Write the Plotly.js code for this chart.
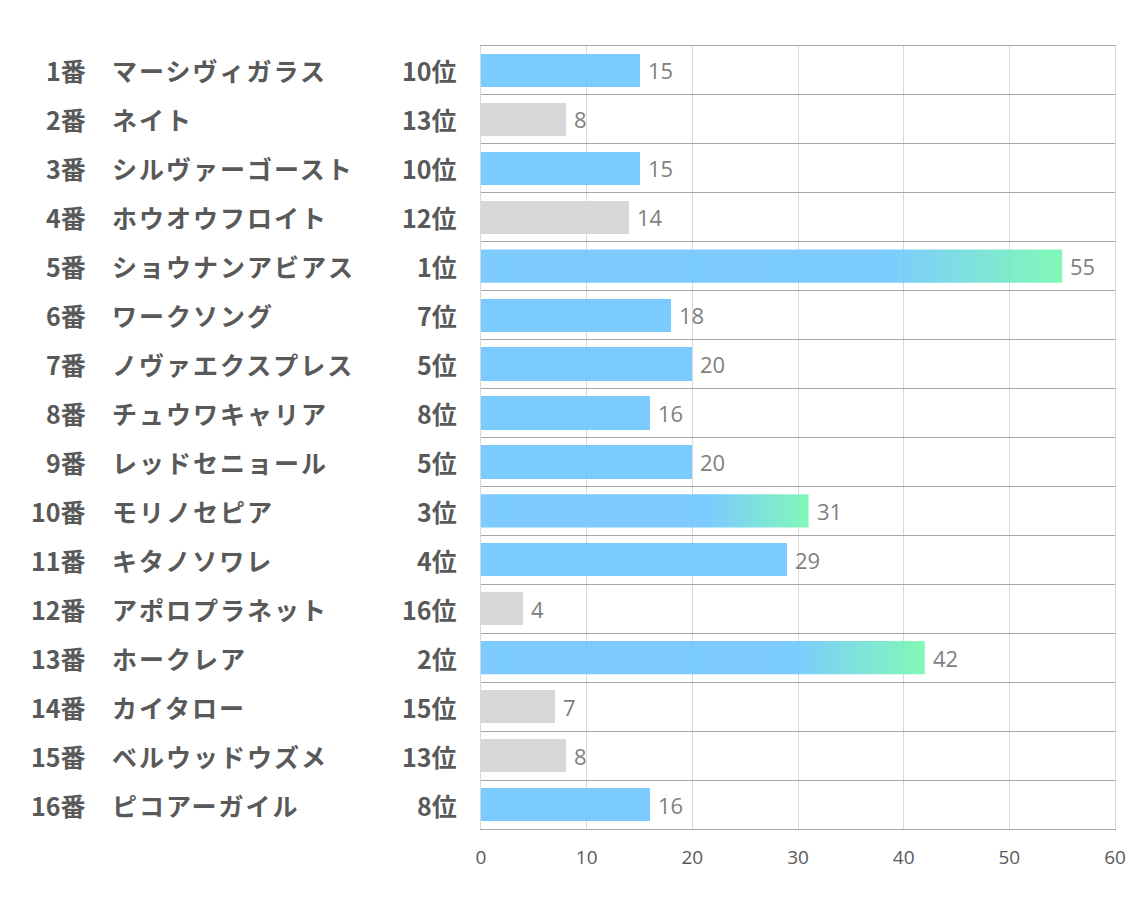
<!DOCTYPE html>
<html><head><meta charset="utf-8">
<script src="https://cdn.plot.ly/plotly-3.0.1.min.js"></script>
<style>html,body{margin:0;padding:0;background:#fff;}#chart{width:1134px;height:907px;}</style>
</head><body><div id="chart"></div>
<script>
const numbers = ["1番","2番","3番","4番","5番","6番","7番","8番","9番","10番","11番","12番","13番","14番","15番","16番"];
const names = ["マーシヴィガラス","ネイト","シルヴァーゴースト","ホウオウフロイト","ショウナンアビアス","ワークソング","ノヴァエクスプレス","チュウワキャリア","レッドセニョール","モリノセピア","キタノソワレ","アポロプラネット","ホークレア","カイタロー","ベルウッドウズメ","ピコアーガイル"];
const ranks = [10,13,10,12,1,7,5,8,5,3,4,16,2,15,13,8];
const values = [15,8,15,14,55,18,20,16,20,31,29,4,42,7,8,16];
const xTicks = [0,10,20,30,40,50,60];

const BLUE = 'rgba(110,197,255,0.9)';
const GRAY = 'rgba(214,214,214,0.95)';
const GREEN = 'rgba(115,248,175,0.9)';
const BW = 0.68;
const idx = values.map((v,i)=>i);

const barColors = idx.map(i => ranks[i] <= 3 ? 'rgba(0,0,0,0)' : (ranks[i] <= 10 ? BLUE : GRAY));

const traces = [{
  type:'bar', orientation:'h', x: values, y: idx, width: BW,
  marker:{color: barColors, line:{width:0}},
  hoverinfo:'skip'
}];

idx.filter(i => ranks[i] <= 3).forEach(i => {
  const v = values[i];
  traces.push({
    type:'scatter', mode:'lines', fill:'toself',
    x:[0, v, v, 0, 0], y:[i-BW/2, i-BW/2, i+BW/2, i+BW/2, i-BW/2],
    line:{width:0, color:'rgba(0,0,0,0)'},
    fillgradient:{type:'horizontal', start:0, stop:v,
      colorscale:[[0,BLUE],[0.7,BLUE],[1,GREEN]]},
    hoverinfo:'skip', showlegend:false
  });
});

const annotations = [];
const lab = {family:'Noto Sans CJK JP, sans-serif', size:25, color:'#595959', weight:700};
idx.forEach(i => {
  annotations.push({xref:'paper', yref:'y', x:-0.6199, y:i, xanchor:'right', yanchor:'middle', text:'<b>'+numbers[i]+'</b>', showarrow:false, font:lab});
  annotations.push({xref:'paper', yref:'y', x:-0.5852, y:i, xanchor:'left', yanchor:'middle', text:'<b><span style="letter-spacing:2px">'+names[i]+'</span></b>', showarrow:false, font:lab});
  annotations.push({xref:'paper', yref:'y', x:-0.0347, y:i, xanchor:'right', yanchor:'middle', text:'<b>'+ranks[i]+'位</b>', showarrow:false, font:lab});
  annotations.push({xref:'x', yref:'y', x:values[i], y:i, xanchor:'left', yanchor:'middle', xshift:6, text:String(values[i]), showarrow:false,
    font:{family:'Open Sans, sans-serif', size:22, color:'#7f7f7f'}});
});

const sep = [];
for (let k=0;k<=values.length;k++) sep.push(k-0.5);

const layout = {
  width:1134, height:907, paper_bgcolor:'#fff', plot_bgcolor:'#fff',
  margin:{l:481, r:19, t:46, b:78},
  showlegend:false, bargap:0,
  xaxis:{range:[0,60], tickvals:xTicks, showgrid:true, gridcolor:'#d9d9d9', gridwidth:1,
    zeroline:false, showline:true, mirror:true, linecolor:'#a6a6a6', linewidth:1, ticks:'', ticklen:0,
    ticklabelstandoff:11,
    tickfont:{family:'Open Sans, sans-serif', size:19, color:'#595959'}, fixedrange:true},
  yaxis:{range:[values.length-0.5,-0.5], tickvals:sep, showticklabels:false, showgrid:true,
    gridcolor:'#a6a6a6', gridwidth:1, zeroline:false, showline:true, mirror:true, linecolor:'#d9d9d9', linewidth:1,
    ticks:'', fixedrange:true},
  annotations: annotations
};

Plotly.newPlot('chart', traces, layout, {displayModeBar:false, staticPlot:true});
</script></body></html>
